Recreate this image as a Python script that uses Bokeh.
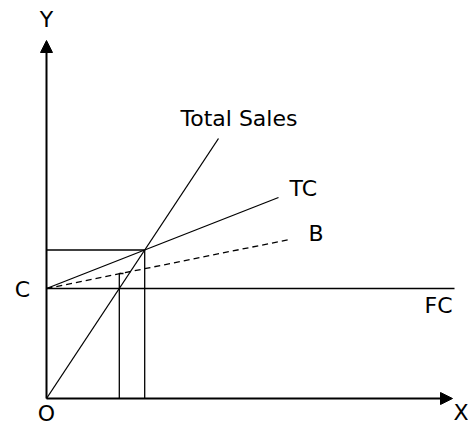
from bokeh.plotting import figure
from bokeh.models import Range1d, Arrow, NormalHead
from bokeh.core.properties import value
from bokeh.embed import file_html
from bokeh.resources import INLINE

# ---- data (units of output / money) ----
fixed_cost = 11.0
sales_x = [0.0, 17.2]
sales_y = [0.0, 26.0]
tc_x = [0.0, 23.2]
tc_y = [11.0, 20.1]
b_x = [0.0, 24.3]
b_y = [11.0, 15.9]
fc_x = [0.0, 40.8]
bep_x = 9.82
bep_y = 14.85
fc_sales_x = 7.28
fc_sales_top = 12.5
tick_end_x = 7.7
x_axis_end = 40.6
y_axis_end = 35.8

labels = ["Total Sales", "TC", "B", "FC", "C", "O", "Y", "X"]
label_x = [19.25, 24.3, 26.2, 37.8, -2.4, 0.0, 0.0, 40.7]
label_y = [28.05, 21.0, 16.5, 9.3, 10.9, -1.45, 37.9, -1.4]
label_align = ["center", "left", "left", "left", "center", "center", "center", "left"]

p = figure(width=468, height=424, output_backend="svg", toolbar_location=None,
           x_range=Range1d(-4.6, 42.2), y_range=Range1d(-2.6, 39.8),
           min_border=0, outline_line_color=None)
p.grid.visible = False
for ax in p.axis:
    ax.visible = False

lc = "black"
lw = 1.3

p.line(sales_x, sales_y, line_color=lc, line_width=lw)
p.line(tc_x, tc_y, line_color=lc, line_width=lw)
p.line(b_x, b_y, line_color=lc, line_width=lw, line_dash="6 4")
p.line(fc_x, [fixed_cost, fixed_cost], line_color=lc, line_width=lw)
# break-even guides
p.line([0.0, bep_x], [bep_y, bep_y], line_color=lc, line_width=lw)
p.line([bep_x, bep_x], [0.0, bep_y], line_color=lc, line_width=lw)
# vertical from sales = FC point
p.line([fc_sales_x, fc_sales_x, tick_end_x], [0.0, fc_sales_top, fc_sales_top],
       line_color=lc, line_width=lw)

# axes with arrowheads
p.add_layout(Arrow(end=NormalHead(size=12, fill_color=lc, line_color=lc),
                   x_start=0, y_start=0, x_end=x_axis_end, y_end=0,
                   line_color=lc, line_width=2))
p.add_layout(Arrow(end=NormalHead(size=12, fill_color=lc, line_color=lc),
                   x_start=0, y_start=0, x_end=0, y_end=y_axis_end,
                   line_color=lc, line_width=2))

p.text(x=label_x, y=label_y, text=labels, text_align=label_align,
       text_baseline="middle", text_font=value("DejaVu Sans"),
       text_font_size="22px", text_color="black")

open("out.html", "w").write(file_html(p, INLINE))
